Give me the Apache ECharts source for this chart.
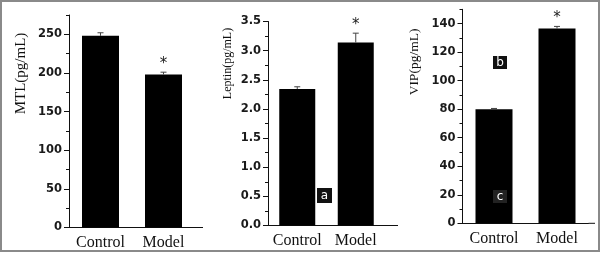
<!DOCTYPE html>
<html><head><meta charset="utf-8">
<script src="https://cdn.jsdelivr.net/npm/echarts@6/dist/echarts.min.js"></script>
<style>html,body{margin:0;padding:0;background:#fff}#c{width:604px;height:254px}</style>
</head><body><div id="c"></div>
<script>
const categories = ['Control', 'Model'];

const mtlValues = [248, 198];
const mtlErrors = [4, 3];
const mtlSig = [0, 1];

const leptinValues = [2.34, 3.14];
const leptinErrors = [0.04, 0.16];
const leptinSig = [0, 1];

const vipValues = [80, 136.5];
const vipErrors = [0.5, 1.5];
const vipSig = [0, 1];

const mtlMajorTicks = [0, 50, 100, 150, 200, 250];
const mtlMinorTicks = [25, 75, 125, 175, 225, 275];
const leptinMajorTicks = [0, 0.5, 1, 1.5, 2, 2.5, 3, 3.5];
const leptinMinorTicks = [0.25, 0.75, 1.25, 1.75, 2.25, 2.75, 3.25];
const vipMajorTicks = [0, 20, 40, 60, 80, 100, 120, 140];
const vipMinorTicks = [10, 30, 50, 70, 90, 110, 130, 150];

const axisTitles = ['MTL(pg/mL)', 'Leptin(pg/mL)', 'VIP(pg/mL)'];
const panelLetters = ['a', 'b', 'c'];

const panels = [
  { values: mtlValues, errors: mtlErrors, sig: mtlSig, major: mtlMajorTicks, minor: mtlMinorTicks, max: 275, fmt: v => String(v),
    grid: { left: 69, top: 15, width: 126, height: 212.5 }, barWidth: 37 },
  { values: leptinValues, errors: leptinErrors, sig: leptinSig, major: leptinMajorTicks, minor: leptinMinorTicks, max: 3.5, fmt: v => Number(v).toFixed(1),
    grid: { left: 268, top: 21.5, width: 117, height: 204 }, barWidth: 36 },
  { values: vipValues, errors: vipErrors, sig: vipSig, major: vipMajorTicks, minor: vipMinorTicks, max: 150, fmt: v => String(v),
    grid: { left: 462.5, top: 9.3, width: 126, height: 214 }, barWidth: 37 }
];

const tickFont = { fontFamily: 'DejaVu Sans', fontSize: 11.5, fontWeight: 'bold', color: '#1a1a1a' };

const grid = [], xAxis = [], yAxis = [], series = [];
panels.forEach((p, i) => {
  grid.push(Object.assign({ containLabel: false }, p.grid));
  xAxis.push({
    type: 'category', gridIndex: i, data: categories,
    axisLine: { lineStyle: { color: '#111', width: 1 } },
    axisTick: { show: false },
    axisLabel: { interval: 0, fontFamily: 'Liberation Serif', fontSize: 16, color: '#111', margin: 7 }
  });
  yAxis.push({
    type: 'value', gridIndex: i, min: 0, max: p.max, position: 'left',
    axisLine: { show: true, lineStyle: { color: '#111', width: 1 } },
    axisTick: { show: true, length: 5, customValues: p.major, lineStyle: { color: '#111' } },
    axisLabel: Object.assign({ margin: 7, customValues: p.major, formatter: p.fmt }, tickFont),
    splitLine: { show: false }
  });
  yAxis.push({
    type: 'value', gridIndex: i, min: 0, max: p.max, position: 'left',
    axisLine: { show: false },
    axisTick: { show: true, length: 3, customValues: p.minor, lineStyle: { color: '#111' } },
    axisLabel: { show: false },
    splitLine: { show: false }
  });
  series.push({
    type: 'bar', xAxisIndex: i, yAxisIndex: i * 2, data: p.values,
    barWidth: p.barWidth, itemStyle: { color: '#000' }, silent: true
  });
  series.push({
    type: 'custom', xAxisIndex: i, yAxisIndex: i * 2, silent: true, z: 5,
    data: p.values.map((v, k) => [k, v, p.errors[k], p.sig[k]]),
    renderItem: function (params, api) {
      const x = api.value(0), v = api.value(1), e = api.value(2), s = api.value(3);
      const p0 = api.coord([x, v]);
      const p1 = api.coord([x, v + e]);
      const cap = 3;
      const ch = [
        { type: 'line', shape: { x1: p0[0], y1: p0[1], x2: p1[0], y2: p1[1] }, style: { stroke: '#444', lineWidth: 1 } },
        { type: 'line', shape: { x1: p1[0] - cap, y1: p1[1], x2: p1[0] + cap, y2: p1[1] }, style: { stroke: '#444', lineWidth: 1 } }
      ];
      if (s) {
        ch.push({ type: 'text', x: p1[0], y: p1[1] - 8,
          style: { text: '*', fontFamily: 'DejaVu Sans', fontSize: 15, fill: '#222', align: 'center', verticalAlign: 'middle' } });
      }
      return { type: 'group', children: ch };
    }
  });
});

function letterBox(x, y, w, h, txt, fill) {
  return { type: 'group', x: x, y: y, z: 100, children: [
    { type: 'rect', z: 100, shape: { x: 0, y: 0, width: w, height: h }, style: { fill: fill } },
    { type: 'text', z: 101, x: w / 2, y: h / 2, style: { text: txt, fontFamily: 'DejaVu Sans', fontSize: 12, fill: '#fff', align: 'center', verticalAlign: 'middle' } }
  ] };
}

const graphic = [
  { type: 'rect', z: 100, shape: { x: 1, y: 1, width: 598, height: 250 }, style: { fill: 'none', stroke: '#8a8a8a', lineWidth: 2 }, silent: true },
  { type: 'line', shape: { x1: 195, y1: 227.5, x2: 203, y2: 227.5 }, style: { stroke: '#111', lineWidth: 1 } },
  { type: 'line', shape: { x1: 385, y1: 225.5, x2: 398, y2: 225.5 }, style: { stroke: '#111', lineWidth: 1 } },
  { type: 'line', shape: { x1: 588.5, y1: 223.3, x2: 595, y2: 223.3 }, style: { stroke: '#111', lineWidth: 1 } },
  { type: 'text', x: 21.5, y: 73.5, rotation: Math.PI / 2,
    style: { text: axisTitles[0], fontFamily: 'Liberation Serif', fontSize: 15, fill: '#111', align: 'center', verticalAlign: 'middle' } },
  { type: 'text', x: 228, y: 63.5, rotation: Math.PI / 2,
    style: { text: axisTitles[1], fontFamily: 'Liberation Serif', fontSize: 12, fill: '#111', align: 'center', verticalAlign: 'middle' } },
  { type: 'text', x: 414, y: 62, rotation: Math.PI / 2,
    style: { text: axisTitles[2], fontFamily: 'Liberation Serif', fontSize: 13.5, fill: '#111', align: 'center', verticalAlign: 'middle' } },
  letterBox(317, 188, 15, 15, panelLetters[0], '#111'),
  letterBox(493, 56, 14, 13, panelLetters[1], '#111'),
  letterBox(493, 190, 14, 13, panelLetters[2], '#222')
];

const chart = echarts.init(document.getElementById('c'), null, { renderer: 'canvas' });
chart.setOption({ animation: false, backgroundColor: '#fff', grid, xAxis, yAxis, series, graphic });
</script>
</body></html>
